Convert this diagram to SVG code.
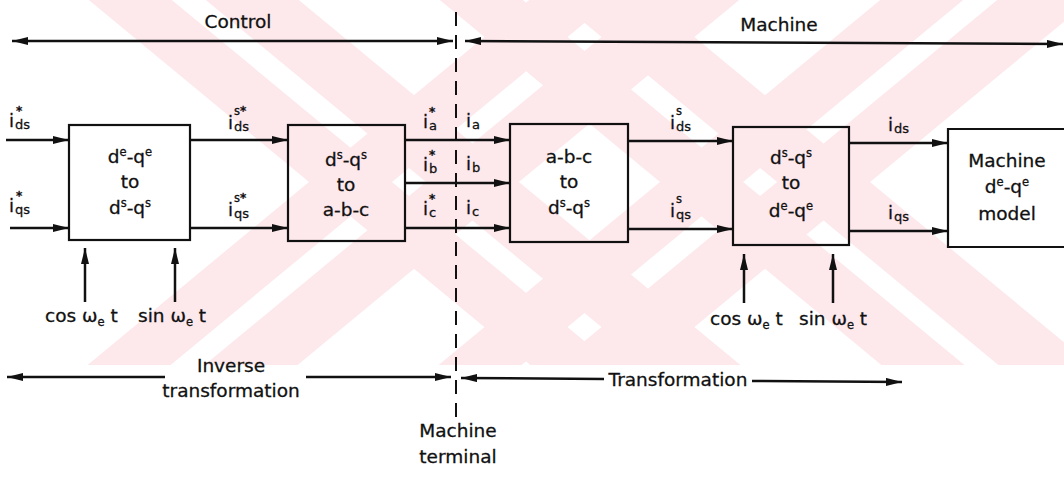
<svg xmlns="http://www.w3.org/2000/svg" width="1064" height="480" viewBox="0 0 1064 480">
<defs>
<style>
text{font-family:"DejaVu Sans","Liberation Sans",sans-serif;fill:#111;stroke:#111;stroke-width:0.3}
.t{font-size:18.5px}
.m{text-anchor:middle}
.i{font-size:18px}
.sb{font-size:13px}
.sp{font-size:11.5px}
.st{font-size:12px;font-weight:bold}
.box{fill:none;stroke:#111;stroke-width:2.2}
.ln{fill:none;stroke:#111;stroke-width:2.5}
.wm{fill:#fde8ec}
</style>
<marker id="ah" viewBox="0 0 16 8" refX="16" refY="4" markerWidth="16" markerHeight="8" markerUnits="userSpaceOnUse" orient="auto-start-reverse">
<path d="M0,0 L16,4 L0,8 z" fill="#111"/>
</marker>
<clipPath id="wmclip"><rect x="0" y="0" width="1064" height="365"/></clipPath>
</defs>
<rect width="1064" height="480" fill="#fff"/>
<g id="watermark" clip-path="url(#wmclip)">
<polygon class="wm" points="64.6,-20 147.6,-20 637.6,385 554.6,385"/>
<polygon class="wm" points="181.6,-20 274.6,-20 764.6,385 671.6,385"/>
<polygon class="wm" points="553.4,-20 636.4,-20 146.4,385 63.4,385"/>
<polygon class="wm" points="670.4,-20 763.4,-20 273.4,385 180.4,385"/>
<polygon class="wm" points="415.6,-20 498.6,-20 988.6,385 905.6,385"/>
<polygon class="wm" points="532.6,-20 625.6,-20 1115.6,385 1022.6,385"/>
<polygon class="wm" points="904.4,-20 987.4,-20 497.4,385 414.4,385"/>
<polygon class="wm" points="1021.4,-20 1114.4,-20 624.4,385 531.4,385"/>
</g>

<g id="box1">
<rect class="box" x="69" y="125" width="121" height="115"/>
<text class="t m" x="130" y="163">d<tspan class="sp" dy="-7">e</tspan><tspan dy="7">-q</tspan><tspan class="sp" dy="-7">e</tspan></text>
<text class="t m" x="130" y="188">to</text>
<text class="t m" x="130" y="214">d<tspan class="sp" dy="-7">s</tspan><tspan dy="7">-q</tspan><tspan class="sp" dy="-7">s</tspan></text>
</g>
<g id="box2">
<rect class="box" x="288" y="125" width="117" height="116"/>
<text class="t m" x="346" y="166">d<tspan class="sp" dy="-7">s</tspan><tspan dy="7">-q</tspan><tspan class="sp" dy="-7">s</tspan></text>
<text class="t m" x="346" y="191">to</text>
<text class="t m" x="346" y="216">a-b-c</text>
</g>
<g id="box3">
<rect class="box" x="510" y="124" width="118" height="118"/>
<text class="t m" x="569" y="163">a-b-c</text>
<text class="t m" x="569" y="188">to</text>
<text class="t m" x="569" y="214">d<tspan class="sp" dy="-7">s</tspan><tspan dy="7">-q</tspan><tspan class="sp" dy="-7">s</tspan></text>
</g>
<g id="box4">
<rect class="box" x="733" y="127" width="116" height="118"/>
<text class="t m" x="791" y="164">d<tspan class="sp" dy="-7">s</tspan><tspan dy="7">-q</tspan><tspan class="sp" dy="-7">s</tspan></text>
<text class="t m" x="791" y="189">to</text>
<text class="t m" x="791" y="217">d<tspan class="sp" dy="-7">e</tspan><tspan dy="7">-q</tspan><tspan class="sp" dy="-7">e</tspan></text>
</g>
<g id="box5">
<path class="box" d="M1066,129 H948 V247 H1066"/>
<text class="t m" x="1007" y="167">Machine</text>
<text class="t m" x="1007" y="193">d<tspan class="sp" dy="-7">e</tspan><tspan dy="7">-q</tspan><tspan class="sp" dy="-7">e</tspan></text>
<text class="t m" x="1007" y="220">model</text>
</g>

<g id="connectors">
<line class="ln" x1="12" y1="41" x2="453" y2="41" marker-start="url(#ah)" marker-end="url(#ah)"/>
<line class="ln" x1="465" y1="41" x2="1063" y2="44" marker-start="url(#ah)" marker-end="url(#ah)"/>
<line x1="456" y1="12" x2="456" y2="418" stroke="#111" stroke-width="2" stroke-dasharray="14 9"/>
<line class="ln" x1="6" y1="140" x2="69" y2="140" marker-end="url(#ah)"/>
<line class="ln" x1="10" y1="228" x2="69" y2="228" marker-end="url(#ah)"/>
<line class="ln" x1="190" y1="140" x2="288" y2="140" marker-end="url(#ah)"/>
<line class="ln" x1="190" y1="228" x2="288" y2="228" marker-end="url(#ah)"/>
<line class="ln" x1="405" y1="140" x2="510" y2="140" marker-end="url(#ah)"/>
<line class="ln" x1="405" y1="183" x2="510" y2="183" marker-end="url(#ah)"/>
<line class="ln" x1="405" y1="228" x2="510" y2="228" marker-end="url(#ah)"/>
<line class="ln" x1="628" y1="141" x2="733" y2="141" marker-end="url(#ah)"/>
<line class="ln" x1="628" y1="229" x2="733" y2="229" marker-end="url(#ah)"/>
<line class="ln" x1="849" y1="143" x2="948" y2="143" marker-end="url(#ah)"/>
<line class="ln" x1="849" y1="231" x2="948" y2="231" marker-end="url(#ah)"/>
<line class="ln" x1="85" y1="302" x2="85" y2="248" marker-end="url(#ah)"/>
<line class="ln" x1="175" y1="302" x2="175" y2="248" marker-end="url(#ah)"/>
<line class="ln" x1="744" y1="303" x2="744" y2="254" marker-end="url(#ah)"/>
<line class="ln" x1="833" y1="303" x2="833" y2="254" marker-end="url(#ah)"/>
<line class="ln" x1="7" y1="377" x2="165" y2="377" marker-start="url(#ah)"/>
<line class="ln" x1="306" y1="377" x2="451" y2="377" marker-end="url(#ah)"/>
<line class="ln" x1="461" y1="378" x2="604" y2="379" marker-start="url(#ah)"/>
<line class="ln" x1="752" y1="381" x2="902" y2="382" marker-end="url(#ah)"/>
</g>

<g id="labels">
<text class="t m" x="238" y="28">Control</text>
<text class="t m" x="779" y="31">Machine</text>
<text class="t m" x="231" y="372">Inverse</text>
<text class="t m" x="231" y="397">transformation</text>
<text class="t m" x="678" y="386">Transformation</text>
<text class="t m" x="458" y="437">Machine</text>
<text class="t m" x="458" y="463">terminal</text>
<text class="t" x="45" y="322">cos ω<tspan class="sp" dy="4">e</tspan><tspan dy="-4"> t</tspan></text>
<text class="t" x="138" y="322">sin ω<tspan class="sp" dy="4">e</tspan><tspan dy="-4"> t</tspan></text>
<text class="t" x="710" y="325">cos ω<tspan class="sp" dy="4">e</tspan><tspan dy="-4"> t</tspan></text>
<text class="t" x="799" y="325">sin ω<tspan class="sp" dy="4">e</tspan><tspan dy="-4"> t</tspan></text>

<g id="l-ids-star"><text class="i" x="9" y="127">i</text><text class="st" x="16" y="115">*</text><text class="sb" x="15" y="129">ds</text></g>
<g id="l-iqs-star"><text class="i" x="9" y="212">i</text><text class="st" x="16" y="200">*</text><text class="sb" x="15" y="214">qs</text></g>
<g id="l-idss"><text class="i" x="228" y="129">i</text><text class="sp" x="234" y="115">s<tspan class="st">*</tspan></text><text class="sb" x="234" y="131">ds</text></g>
<g id="l-iqss"><text class="i" x="228" y="216">i</text><text class="sp" x="234" y="202">s<tspan class="st">*</tspan></text><text class="sb" x="234" y="218">qs</text></g>
<g id="l-ia-star"><text class="i" x="423" y="128">i</text><text class="st" x="429" y="116">*</text><text class="sb" x="429" y="130">a</text></g>
<g id="l-ia"><text class="i" x="466" y="127">i</text><text class="sb" x="472" y="129">a</text></g>
<g id="l-ib-star"><text class="i" x="423" y="171">i</text><text class="st" x="429" y="159">*</text><text class="sb" x="429" y="173">b</text></g>
<g id="l-ib"><text class="i" x="466" y="170">i</text><text class="sb" x="472" y="172">b</text></g>
<g id="l-ic-star"><text class="i" x="423" y="215">i</text><text class="st" x="429" y="203">*</text><text class="sb" x="429" y="217">c</text></g>
<g id="l-ic"><text class="i" x="466" y="214">i</text><text class="sb" x="472" y="216">c</text></g>
<g id="l-ids-s"><text class="i" x="670" y="129">i</text><text class="sp" x="676" y="115">s</text><text class="sb" x="676" y="131">ds</text></g>
<g id="l-iqs-s"><text class="i" x="670" y="217">i</text><text class="sp" x="676" y="203">s</text><text class="sb" x="676" y="219">qs</text></g>
<g id="l-ids"><text class="i" x="888" y="131">i</text><text class="sb" x="894" y="133">ds</text></g>
<g id="l-iqs"><text class="i" x="888" y="219">i</text><text class="sb" x="894" y="221">qs</text></g>
</g>
</svg>
